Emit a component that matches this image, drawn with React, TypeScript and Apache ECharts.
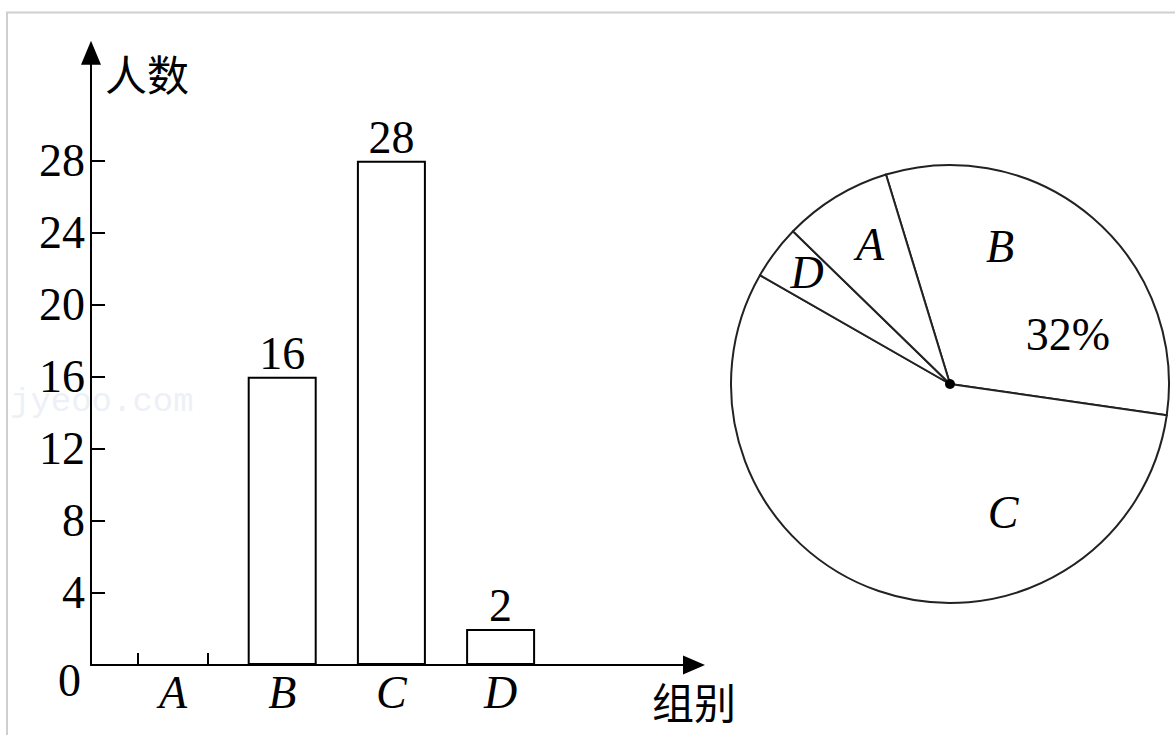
import React, { useEffect, useRef } from "react";
import * as echarts from "echarts";

// ---- data ----
const categories = ["A", "B", "C", "D"];
const barCounts: (number | null)[] = [null, 16, 28, 2]; // bar A is not drawn in the figure
const pieCounts = [4, 16, 28, 2]; // A, B, C, D (total 50, B = 32%)
const pieOrder = ["B", "C", "D", "A"]; // clockwise from the top-left edge of B
const yTickValues = [4, 8, 12, 16, 20, 24, 28];
const yLabelValues = [0, 4, 8, 12, 16, 20, 24, 28];
const yMax = 34;
const missingBar = "A";

const SERIF = '"Liberation Serif", "Times New Roman", serif';
const CJK = '"Noto Sans CJK SC", sans-serif';

// label anchor positions inside the pie (layout only)
const pieLabelSpots: Record<string, [number, number]> = {
  A: [870, 244],
  B: [1034, 290],
  C: [1003, 512],
  D: [807, 272],
};

export default function App() {
  const ref = useRef<HTMLDivElement>(null);
  useEffect(() => {
    if (!ref.current) return;
    const chart = echarts.init(ref.current, undefined, { renderer: "svg" });
    const gridTop = 665 - yMax * 18.01;
    const pieData = pieOrder.map((name) => ({
      name,
      value: pieCounts[categories.indexOf(name)],
    }));
    const option: any = {
      animation: false,
      backgroundColor: "#fff",
      graphic: [
        {
          type: "polyline",
          shape: { points: [[7, 735], [7, 12.5], [1175, 12.5]] },
          style: { stroke: "#cfcfcf", lineWidth: 2, fill: null },
          silent: true,
        },
        {
          type: "text",
          x: 10,
          y: 402,
          style: {
            text: "jyeoo.com",
            font: '34px "Liberation Mono", monospace',
            lineHeight: 12,
            fill: "#eef0f7",
            verticalAlign: "middle",
          },
          silent: true,
          z: -1,
        },
      ],
      grid: [
        { left: 118.4, right: 1175 - 555.2, top: gridTop, bottom: 70 },
        { left: 91, right: 1175 - 694, top: gridTop, bottom: 70 },
      ],
      xAxis: [
        {
          gridIndex: 0,
          type: "category",
          data: categories,
          boundaryGap: true,
          axisLine: { show: false },
          axisTick: { show: false },
          axisLabel: {
            margin: 4,
            color: "#000",
            fontFamily: SERIF,
            fontStyle: "italic",
            fontSize: 46,
          },
        },
        {
          gridIndex: 1,
          type: "value",
          min: 0,
          max: 1,
          axisLine: {
            show: true,
            symbol: ["none", "triangle"],
            symbolSize: [19, 22],
            lineStyle: { color: "#000", width: 2 },
          },
          axisTick: { show: false },
          axisLabel: { show: false },
          splitLine: { show: false },
          name: "组别",
          nameLocation: "end",
          nameGap: -42,
          nameTextStyle: {
            fontFamily: CJK,
            fontSize: 42,
            color: "#000",
            align: "left",
            verticalAlign: "top",
            padding: [14, 0, 0, 0],
          },
        },
      ],
      yAxis: [
        { gridIndex: 0, type: "value", min: 0, max: yMax, show: false },
        {
          gridIndex: 1,
          type: "value",
          min: 0,
          max: yMax,
          axisLine: {
            show: true,
            symbol: ["none", "triangle"],
            symbolSize: [20, 24],
            lineStyle: { color: "#000", width: 2 },
          },
          axisTick: {
            show: true,
            inside: true,
            length: 14,
            customValues: yTickValues,
            lineStyle: { color: "#000", width: 2 },
          },
          axisLabel: {
            customValues: yLabelValues,
            margin: 6,
            color: "#000",
            fontFamily: SERIF,
            fontSize: 46,
            lineHeight: 36,
            formatter: (v: number) => (v === 0 ? "{z|0}" : String(v)),
            rich: {
              z: {
                fontFamily: SERIF,
                fontSize: 46,
                color: "#000",
                lineHeight: 36,
                padding: [30, 4, 0, 0],
              },
            },
          },
          splitLine: { show: false },
          name: "人数",
          nameLocation: "end",
          nameGap: -20,
          nameTextStyle: {
            fontFamily: CJK,
            fontSize: 42,
            color: "#000",
            align: "left",
            verticalAlign: "middle",
            padding: [0, 0, 0, 14],
          },
        },
      ],
      series: [
        {
          type: "bar",
          xAxisIndex: 0,
          yAxisIndex: 0,
          data: barCounts,
          barWidth: 69,
          itemStyle: { color: "#fff", borderColor: "#000", borderWidth: 2 },
          label: {
            show: true,
            position: "top",
            distance: 0,
            color: "#000",
            fontFamily: SERIF,
            fontSize: 46,
          },
          silent: true,
        },
        {
          type: "custom",
          xAxisIndex: 0,
          yAxisIndex: 0,
          data: [[categories.indexOf(missingBar), 0]],
          silent: true,
          renderItem: (_params: any, api: any) => {
            const p = api.coord([api.value(0), 0]);
            const half = 35;
            const h = 12;
            const style = { stroke: "#000", lineWidth: 2 };
            return {
              type: "group",
              children: [
                { type: "line", shape: { x1: p[0] - half, y1: p[1], x2: p[0] - half, y2: p[1] - h }, style },
                { type: "line", shape: { x1: p[0] + half, y1: p[1], x2: p[0] + half, y2: p[1] - h }, style },
              ],
            };
          },
        },
        {
          type: "pie",
          center: [950, 384],
          radius: 219,
          startAngle: 107,
          clockwise: true,
          silent: true,
          data: pieData,
          itemStyle: { color: "#fff", borderColor: "#222", borderWidth: 2 },
          label: {
            show: true,
            position: "inside",
            color: "#000",
            formatter: (p: any) =>
              p.name === "B"
                ? `{nb|B}\n{p|${Math.round(p.percent)}%}`
                : `{n|${p.name}}`,
            rich: {
              n: { fontFamily: SERIF, fontSize: 46, fontStyle: "italic", color: "#000", lineHeight: 88 },
              nb: {
                fontFamily: SERIF,
                fontSize: 46,
                fontStyle: "italic",
                color: "#000",
                lineHeight: 88,
                padding: [0, 68, 0, 0],
              },
              p: {
                fontFamily: SERIF,
                fontSize: 46,
                color: "#000",
                lineHeight: 88,
                padding: [0, 0, 0, 68],
              },
            },
          },
          labelLine: { show: false },
          labelLayout: (params: any) => {
            const name = pieData[params.dataIndex].name;
            const spot = pieLabelSpots[name];
            return { x: spot[0], y: spot[1], align: "center", verticalAlign: "middle" };
          },
        },
        {
          type: "pie",
          center: [950, 384],
          radius: 5,
          silent: true,
          data: [{ value: 1, name: "O" }],
          itemStyle: { color: "#000" },
          label: { show: false },
          labelLine: { show: false },
        },
      ],
    };
    chart.setOption(option);
    return () => chart.dispose();
  }, []);
  return (
    <div
      ref={ref}
      style={{ position: "fixed", left: 0, top: 0, width: 1175, height: 735, background: "#fff" }}
    />
  );
}
